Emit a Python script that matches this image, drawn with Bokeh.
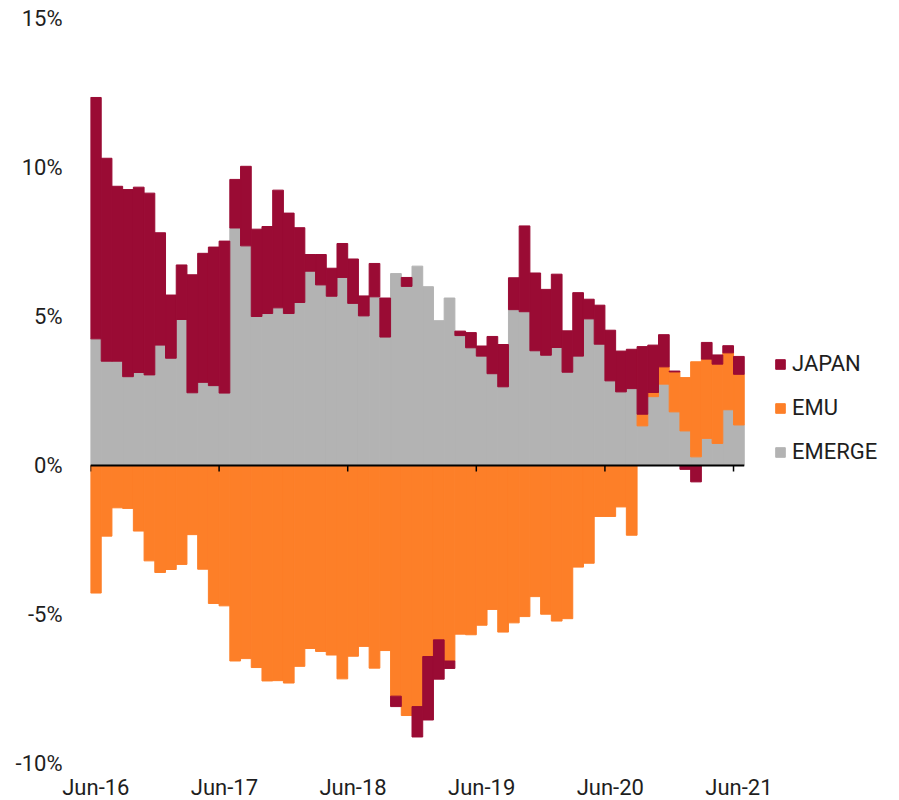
import numpy as np
import pandas as pd
from bokeh.plotting import figure
from bokeh.models import Range1d, FixedTicker, Legend, LegendItem
from bokeh.embed import file_html
from bokeh.resources import INLINE

# ---------------- data (percent) ----------------
months = pd.date_range("2016-06-01", periods=61, freq="MS")

japan = [8.10, 6.81, 5.87, 6.28, 6.22, 6.10, 3.77, 2.12, 1.83, 3.96,
         4.33, 4.65, 5.10, 1.63, 2.67, 2.93, 2.92, 3.95, 3.37, 2.51,
         0.56, 1.02, 0.94, 1.14, 1.49, 0.67, 1.12, 1.31, -0.35, 0.30,
         -1.02, -2.13, -1.32, -0.25, 0.15, 0.51, 0.34, 1.25, 1.42, 1.07,
         2.88, 2.61, 2.21, 2.46, 1.39, 2.13, 0.66, 1.31, 1.70, 1.37,
         1.32, 2.27, 1.59, 1.08, 0.03, -0.13, -0.55, 0.56, 0.31, 0.24, 0.60]

emu = [-4.28, -2.37, -1.42, -1.44, -2.20, -3.20, -3.59, -3.49, -3.32, -2.32,
       -3.48, -4.63, -4.71, -6.56, -6.48, -6.78, -7.23, -7.22, -7.30, -6.74,
       -6.14, -6.24, -6.36, -7.16, -6.40, -6.07, -6.80, -6.21, -7.74, -8.39,
       -8.09, -6.41, -5.85, -6.56, -5.66, -5.68, -5.36, -4.83, -5.59, -5.28,
       -5.07, -4.40, -4.99, -5.22, -5.14, -3.41, -3.28, -1.71, -1.71, -1.39,
       -2.34, 0.39, 0.14, 0.58, 1.34, 1.79, 3.19, 2.66, 2.66, 1.91, 1.70]

emerge = [4.25, 3.50, 3.50, 2.98, 3.12, 3.04, 4.04, 3.60, 4.90, 2.44,
          2.79, 2.68, 2.43, 7.97, 7.37, 5.00, 5.10, 5.29, 5.10, 5.47,
          6.52, 6.06, 5.68, 6.31, 5.44, 5.02, 5.66, 4.31, 6.44, 6.01,
          6.69, 6.00, 4.86, 5.62, 4.36, 3.95, 3.67, 3.08, 2.64, 5.23,
          5.16, 3.85, 3.70, 3.96, 3.13, 3.67, 4.92, 4.07, 2.84, 2.47,
          2.58, 1.33, 2.31, 2.73, 1.80, 1.16, 0.29, 0.91, 0.74, 1.87, 1.36]

series_names = ["EMERGE", "EMU", "JAPAN"]          # stacking order (bottom -> top)
series_values = [emerge, emu, japan]
series_colors = ["#B3B3B3", "#FD7F28", "#9A0B34"]

tick_labels = ["Jun-16", "Jun-17", "Jun-18", "Jun-19", "Jun-20", "Jun-21"]
y_ticks = [-10, -5, 0, 5, 10, 15]

# ---------------- layout constants ----------------
FONT = "Roboto"
FS = "22px"
TXT = "#1e1e1e"
PX_PER_MONTH = 10.717
FRAME_W = 797
FRAME_H = 745

n = len(months)
xc = np.arange(n) + 0.5
june_idx = [i for i, d in enumerate(months) if d.month == 6]

p = figure(frame_width=FRAME_W, frame_height=FRAME_H,
           x_range=Range1d(0, FRAME_W / PX_PER_MONTH),
           y_range=Range1d(min(y_ticks), max(y_ticks)),
           output_backend="svg", toolbar_location=None,
           min_border_left=90, min_border_right=0,
           min_border_top=18, min_border_bottom=0)
p.outline_line_color = None
p.xgrid.visible = False
p.ygrid.visible = False
p.background_fill_color = "white"

# stacked bars: positives stack upward, negatives stack downward
pos_base = np.zeros(n)
neg_base = np.zeros(n)
renderers = {}
for name, vals, col in zip(series_names, series_values, series_colors):
    v = np.array(vals, dtype=float)
    bottom = np.where(v >= 0, pos_base, neg_base + v)
    top = np.where(v >= 0, pos_base + v, neg_base)
    pos_base = pos_base + np.where(v >= 0, v, 0)
    neg_base = neg_base + np.where(v < 0, v, 0)
    r = p.vbar(x=xc, width=1.0, bottom=bottom, top=top,
               fill_color=col, line_color=col, line_width=1)
    renderers[name] = r

# zero line with small tick marks at each June
p.segment(x0=[0], x1=[n], y0=[0], y1=[0], line_color="black", line_width=2)
p.ray(x=june_idx, y=[0] * len(june_idx), length=6, length_units="screen",
      angle=-np.pi / 2, line_color="black", line_width=1.5)

# y axis
p.yaxis.ticker = FixedTicker(ticks=y_ticks)
p.yaxis.major_label_overrides = {t: f"{t}%" for t in y_ticks}
p.yaxis.axis_line_color = None
p.yaxis.major_tick_line_color = None
p.yaxis.minor_tick_line_color = None
p.yaxis.major_label_standoff = 22
p.yaxis.major_label_text_font = FONT
p.yaxis.major_label_text_font_size = FS
p.yaxis.major_label_text_color = TXT

# x axis (labels centred on the June bars)
xt = [i + 0.5 for i in june_idx]
p.xaxis.ticker = FixedTicker(ticks=xt)
p.xaxis.major_label_overrides = {t: lab for t, lab in zip(xt, tick_labels)}
p.xaxis.axis_line_color = None
p.xaxis.major_tick_line_color = None
p.xaxis.minor_tick_line_color = None
p.xaxis.major_label_standoff = 5
p.xaxis.major_label_text_font = FONT
p.xaxis.major_label_text_font_size = FS
p.xaxis.major_label_text_color = TXT

legend = Legend(items=[LegendItem(label=nm, renderers=[renderers[nm]])
                       for nm in ["JAPAN", "EMU", "EMERGE"]],
                location=(684, 299), orientation="vertical",
                glyph_width=12, glyph_height=12, label_standoff=6,
                spacing=19, padding=0, margin=0,
                border_line_color=None, background_fill_alpha=0,
                label_text_font=FONT, label_text_font_size=FS,
                label_text_color=TXT)
p.add_layout(legend)

open("out.html", "w").write(file_html(p, INLINE, title="chart"))
